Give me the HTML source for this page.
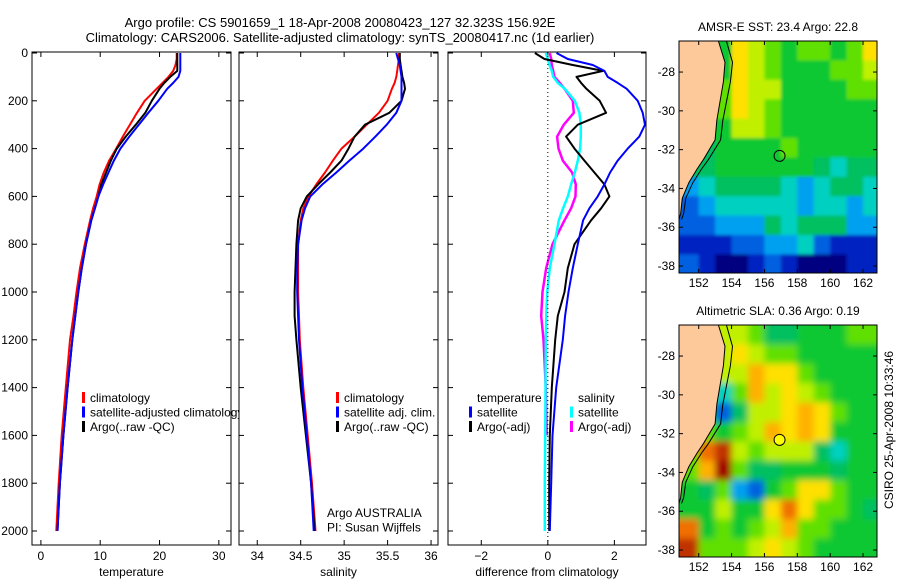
<!DOCTYPE html>
<html><head><meta charset="utf-8"><style>
html,body{margin:0;padding:0;background:#fff;}
svg{display:block;font-family:"Liberation Sans",sans-serif;}
</style></head><body>
<svg id="c" width="900" height="580" viewBox="0 0 900 580" xmlns="http://www.w3.org/2000/svg">
<defs>
<filter id="blurS" x="0" y="0" width="1" height="1"><feGaussianBlur stdDeviation="1.5" edgeMode="duplicate"/></filter>
<filter id="blurL" x="0" y="0" width="1" height="1"><feGaussianBlur stdDeviation="3.5" edgeMode="duplicate"/></filter>
<clipPath id="clipTop"><rect x="679" y="41" width="198" height="232"/></clipPath>
<clipPath id="clipBot"><rect x="679" y="325" width="198" height="232"/></clipPath>
</defs>
<text x="340" y="27" font-size="13" text-anchor="middle">Argo profile: CS 5901659_1 18-Apr-2008 20080423_127 32.323S 156.92E</text>
<text x="340" y="42" font-size="13" text-anchor="middle">Climatology: CARS2006. Satellite-adjusted climatology: synTS_20080417.nc (1d earlier)</text>
<text transform="translate(893,430) rotate(-90)" font-size="12" text-anchor="middle">CSIRO 25-Apr-2008 10:33:46</text>
</svg>
<script>
const depths=[0,25,50,75,100,125,150,200,250,300,350,400,450,500,550,600,650,700,800,900,1000,1100,1200,1400,1600,1800,2000];
const tempClim=[22.9,22.9,22.7,22.3,21.5,20.5,19.5,17.5,16.2,15.0,13.8,12.7,11.5,10.6,9.9,9.4,8.8,8.3,7.4,6.6,6.0,5.5,4.9,4.2,3.5,3.0,2.6];
const tempSat=[23.5,23.5,23.5,23.5,23.2,22.3,21.3,19.8,18.1,16.5,14.9,13.4,12.3,11.4,10.5,9.7,9.1,8.5,7.6,6.9,6.3,5.8,5.3,4.5,3.8,3.2,2.8];
const tempArgo=[23.0,23.0,23.0,23.0,21.8,20.8,20.0,18.7,17.6,16.0,14.3,12.8,11.8,11.0,10.2,9.7,9.1,8.5,7.6,6.9,6.3,5.8,5.3,4.5,3.8,3.2,2.8];
const salClim=[35.63,35.63,35.62,35.61,35.60,35.58,35.55,35.50,35.40,35.26,35.12,34.97,34.87,34.78,34.68,34.59,34.53,34.50,34.47,34.47,34.47,34.48,34.49,34.53,34.58,34.63,34.67];
const salSat=[35.60,35.62,35.64,35.65,35.66,35.66,35.66,35.66,35.60,35.49,35.36,35.22,35.06,34.91,34.75,34.61,34.55,34.51,34.47,34.46,34.46,34.47,34.48,34.52,34.57,34.62,34.65];
const salArgo=[35.64,35.64,35.65,35.66,35.67,35.69,35.70,35.66,35.52,35.24,35.12,35.05,34.97,34.84,34.70,34.57,34.50,34.47,34.45,34.44,34.43,34.43,34.45,34.50,34.56,34.62,34.66];
const diffTempSat=[0.26,0.6,1.35,1.7,1.8,2.1,2.37,2.7,2.85,2.92,2.75,2.4,2.1,1.87,1.7,1.5,1.25,1.06,0.9,0.75,0.62,0.52,0.45,0.25,0.14,0.1,0.06];
const diffTempArgo=[-0.39,-0.1,0.75,1.66,0.86,1.0,1.16,1.56,1.75,0.9,0.55,0.8,1.1,1.4,1.7,1.85,1.6,1.3,0.8,0.6,0.5,0.3,0.22,0.12,0.06,0.04,0.04];
const diffSalSat=[-0.06,0.0,0.05,0.12,0.16,0.3,0.51,0.81,0.95,0.99,0.99,0.97,0.9,0.81,0.7,0.6,0.46,0.33,0.2,0.06,-0.02,-0.05,-0.06,-0.07,-0.08,-0.09,-0.09];
const diffSalArgo=[0.06,0.1,0.12,0.16,0.2,0.36,0.5,0.75,0.78,0.48,0.28,0.32,0.45,0.73,0.84,0.83,0.7,0.5,0.14,-0.05,-0.16,-0.2,-0.13,-0.06,-0.03,null,null];
const depthTicks=[0,200,400,600,800,1000,1200,1400,1600,1800,2000];
const tempTicks=[0,10,20,30];
const salTicks=[34,34.5,35,35.5,36];
const diffTicks=[-2,0,2];
const latTicks=[28,30,32,34,36,38];
const lonTicks=[152,154,156,158,160,162];
const palette=['#000080','#0020c0','#0060e0','#00a0f0','#00d0c0','#00c060','#10c830','#60e000','#c0f000','#ffe000','#ffb000','#f07000','#c03000','#a00000'];
const sstGrid=[
[6,6,6,9,8,7,6,7,7,6,7,9],
[6,6,6,9,8,7,6,6,6,7,7,8],
[6,6,7,9,8,8,6,6,6,6,7,7],
[6,6,7,9,8,7,6,6,6,6,6,6],
[6,6,6,8,8,7,6,6,6,6,6,6],
[5,5,6,6,6,6,7,6,6,6,6,6],
[5,5,6,6,6,6,6,6,5,4,5,5],
[3,4,5,5,5,5,4,3,4,5,5,4],
[2,3,4,4,4,4,4,3,4,4,3,4],
[2,2,3,3,3,5,4,5,5,5,3,3],
[1,1,1,2,2,3,3,4,2,1,1,1],
[2,1,0,0,1,2,1,0,0,0,1,1]];
const slaGrid=[
[8,8,8,8,7,5,5,6,6,6,7,7],
[8,8,8,9,8,7,7,6,6,6,6,6],
[8,8,8,8,10,9,9,7,6,6,6,6],
[7,7,4,7,10,8,9,8,7,6,6,6],
[6,6,2,5,8,8,9,10,9,7,6,6],
[7,7,6,7,8,10,9,10,9,6,6,6],
[7,11,12,8,7,8,8,8,5,4,6,6],
[7,10,13,7,5,5,6,6,6,5,6,6],
[6,5,7,3,2,6,7,9,9,7,6,6],
[6,6,8,6,6,9,11,9,7,7,6,5],
[11,6,7,6,7,8,10,7,7,6,6,6],
[12,7,7,7,8,9,8,7,6,6,6,6]];
const coastLat=[26.4,27.5,28.5,29.5,30.5,31.5,32.5,33.0,33.7,34.5,35.3,35.6];
const coastLon=[153.2,153.6,153.5,153.3,153.1,153.0,152.3,151.9,151.4,151.0,150.9,150.8];
const argoLon=[156.92];
const argoLat=[32.32];

const NS='http://www.w3.org/2000/svg';
const svg=document.getElementById('c');
function el(tag,attrs,parent){const e=document.createElementNS(NS,tag);for(const k in attrs)e.setAttribute(k,attrs[k]);(parent||svg).appendChild(e);return e;}
function txt(x,y,s,size,anchor,parent){const t=el('text',{x:x,y:y,'font-size':size,'text-anchor':anchor||'start'},parent);t.textContent=s;return t;}

const TOP=52,BOT=545;
const yDepth=d=>53+d*0.239;

function panel(name,x0,x1,xmin,xmax,ticks,label,series,showY){
  const g=el('g',{});
  
  
  el('rect',{x:x0,y:TOP,width:x1-x0,height:BOT-TOP,fill:'#fff',stroke:'none'},g);
  const xs=v=>x0+(v-xmin)/(xmax-xmin)*(x1-x0);
  ticks.forEach(t=>{const x=xs(t);
    el('line',{x1:x,y1:BOT,x2:x,y2:BOT-5,stroke:'#000'},g);
    el('line',{x1:x,y1:TOP,x2:x,y2:TOP+5,stroke:'#000'},g);
    const lt=txt(x,BOT+15,String(t).replace('-','−'),12,'middle',g);
    
    
  });
  depthTicks.forEach(d=>{const y=yDepth(d);
    el('line',{x1:x0,y1:y,x2:x0+5,y2:y,stroke:'#000'},g);
    el('line',{x1:x1,y1:y,x2:x1-5,y2:y,stroke:'#000'},g);
    if(showY){const t=txt(x0-4,y+4,String(d),12,'end',g);
      
      }
  });
  const xl=txt((x0+x1)/2,BOT+31,label,12,'middle',g);
  
  
  series.forEach(s=>{
    let d='';let pen=false;
    s.vals.forEach((v,i)=>{if(v===null){pen=false;return;}d+=(pen?'L':'M')+xs(v).toFixed(1)+' '+yDepth(depths[i]).toFixed(1);pen=true;});
    const p=el('path',{d:d,fill:'none',stroke:s.color,'stroke-width':s.w||2,'stroke-linejoin':'round'},g);
    
    
  });
  return {g:g,xs:xs};
}
function legend(g,x,y,items){
  items.forEach((it,i)=>{
    if(it.color)el('rect',{x:x,y:y+i*14.5-10,width:3,height:11,fill:it.color},g);
    const t=txt(x+8,y+i*14.5,it.text,12,'start',g);
    
    
  });
}

const p1=panel('temperature-panel',32,231,-1.5,32.05,tempTicks,'temperature',[
  {vals:tempClim,color:'#ff0000',w:2,name:'temp-climatology-line'},
  {vals:tempArgo,color:'#000000',w:2,name:'temp-argo-line'},
  {vals:tempSat,color:'#0000ff',w:2,name:'temp-satellite-line'}],true);
legend(p1.g,82,402,[{color:'#f00',text:'climatology'},{color:'#00f',text:'satellite-adjusted climatology'},{color:'#000',text:'Argo(..raw -QC)'}]);
const p2=panel('salinity-panel',239,438,33.79,36.08,salTicks,'salinity',[
  {vals:salClim,color:'#ff0000',w:2,name:'sal-climatology-line'},
  {vals:salArgo,color:'#000000',w:2,name:'sal-argo-line'},
  {vals:salSat,color:'#0000ff',w:2,name:'sal-satellite-line'}],false);
legend(p2.g,336,402,[{color:'#f00',text:'climatology'},{color:'#00f',text:'satellite adj. clim.'},{color:'#000',text:'Argo(..raw -QC)'}]);
legend(p2.g,319,517,[{text:'Argo AUSTRALIA'},{text:'PI: Susan Wijffels'}]);
const p3=panel('difference-panel',448,646,-3.0,2.95,diffTicks,'difference from climatology',[
  {vals:diffSalArgo,color:'#ff00ff',w:2.5,name:'diff-sal-argo-line'},
  {vals:diffSalSat,color:'#00ffff',w:2.5,name:'diff-sal-satellite-line'},
  {vals:diffTempArgo,color:'#000000',w:2,name:'diff-temp-argo-line'},
  {vals:diffTempSat,color:'#0000ff',w:2,name:'diff-temp-satellite-line'}],false);
el('line',{x1:p3.xs(0),y1:TOP,x2:p3.xs(0),y2:BOT,stroke:'#000','stroke-dasharray':'1 3'},p3.g);
legend(p3.g,469,402,[{text:'temperature'},{color:'#00f',text:'satellite'},{color:'#000',text:'Argo(-adj)'}]);
legend(p3.g,570,402,[{text:'salinity'},{color:'#0ff',text:'satellite'},{color:'#f0f',text:'Argo(-adj)'}]);
[p1,p2,p3].forEach(p=>{const r=p.g.querySelector('rect');el('rect',{x:r.getAttribute('x'),y:TOP,width:r.getAttribute('width'),height:BOT-TOP,fill:'none',stroke:'#000'},p.g);});

function mapPanel(name,top,grid,title,dotFill,clip,filt){
  const x0=679,x1=877,lonMin=150.8,lonMax=162.85;
  const latTop=26.4,pxDeg=19.4,bottom=top+232;
  const xs=v=>x0+(v-lonMin)/(lonMax-lonMin)*(x1-x0);
  const ys=v=>top+(v-latTop)*pxDeg;
  const g=el('g',{});
  
  
  const t=txt((x0+x1)/2,top-10,title,12,'middle',g);
  
  
  const outer=el('g',{'clip-path':'url(#'+clip+')'},g);
  const cg=el('g',{filter:'url(#'+filt+')'},outer);
  grid.forEach((row,r)=>row.forEach((v,c)=>{
    const lon0=151+c, lat0=26.4+r;
    const cx0=c===0?x0-10:xs(lon0), cx1=c===row.length-1?x1+10:xs(lon0+1)+0.5;
    const cy0=r===0?top-10:ys(lat0), cy1=r===grid.length-1?bottom+10:ys(lat0+1)+0.5;
    const cell=el('rect',{x:cx0.toFixed(1),y:cy0.toFixed(1),width:(cx1-cx0).toFixed(1),height:(cy1-cy0).toFixed(1),fill:palette[v]},cg);
    
    
  }));
  let d='M'+x0+' '+top;
  coastLat.forEach((la,i)=>{d+='L'+xs(coastLon[i]).toFixed(1)+' '+ys(la).toFixed(1);});
  d+='L'+x0+' '+ys(coastLat[coastLat.length-1]).toFixed(1)+'Z';
  const land=el('path',{d:d,fill:'#fdc99b',stroke:'#000','stroke-width':1},g);
  
  
  let d2='';
  coastLat.forEach((la,i)=>{d2+=(i?'L':'M')+(xs(coastLon[i])+8-i*0.5).toFixed(1)+' '+ys(la).toFixed(1);});
  el('path',{d:d2,fill:'none',stroke:'#000','stroke-width':1},g);
  const dot=el('circle',{cx:xs(argoLon[0]),cy:ys(argoLat[0]),r:5.5,fill:dotFill,stroke:'#000','stroke-width':1},g);
  
  
  el('rect',{x:x0,y:top,width:x1-x0,height:bottom-top,fill:'none',stroke:'#000'},g);
  latTicks.forEach(la=>{const y=ys(la);
    el('line',{x1:x0,y1:y,x2:x0+4,y2:y,stroke:'#000'},g);
    el('line',{x1:x1,y1:y,x2:x1-4,y2:y,stroke:'#000'},g);
    const l=txt(x0-4,y+4,'-'+la,12,'end',g);
    
    });
  lonTicks.forEach(lo=>{const x=xs(lo);
    el('line',{x1:x,y1:bottom,x2:x,y2:bottom-4,stroke:'#000'},g);
    el('line',{x1:x,y1:top,x2:x,y2:top+4,stroke:'#000'},g);
    const l=txt(x,bottom+14,String(lo),12,'middle',g);
    
    });
}
mapPanel('sst-map',41,sstGrid,'AMSR-E SST: 23.4  Argo: 22.8','none','clipTop','blurS');
mapPanel('sla-map',325,slaGrid,'Altimetric SLA: 0.36  Argo: 0.19','#ffff00','clipBot','blurL');
</script>
</body></html>
